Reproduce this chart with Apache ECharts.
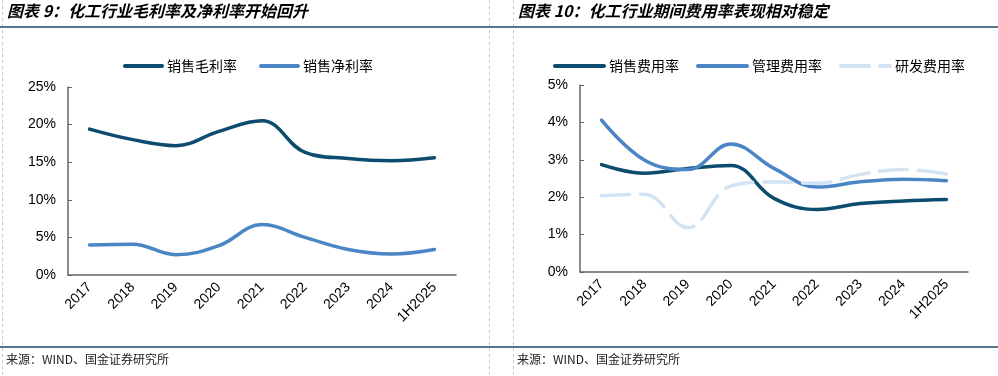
<!DOCTYPE html>
<html>
<head>
<meta charset="utf-8">
<script src="https://cdn.jsdelivr.net/npm/echarts@6/dist/echarts.min.js"></script>
<style>
  html, body { margin: 0; padding: 0; background: #fff; }
  #main { width: 998px; height: 376px; }
</style>
</head>
<body>
<div id="main"></div>
<script>
// categories, shared by both panels
var years = ['2017', '2018', '2019', '2020', '2021', '2022', '2023', '2024', '1H2025']

// panel 9: margins (%)
var grossMargin = [19.4, 18.0, 17.2, 19.1, 20.5, 16.3, 15.5, 15.2, 15.6]
var netMargin = [4.0, 4.1, 2.7, 3.9, 6.7, 5.0, 3.4, 2.8, 3.4]

// panel 10: expense ratios (%)
var sellingRate = [2.87, 2.64, 2.77, 2.85, 1.97, 1.67, 1.83, 1.90, 1.94]
var adminRate = [4.06, 2.99, 2.74, 3.42, 2.77, 2.27, 2.41, 2.48, 2.44]
var rdRate = [2.04, 2.08, 1.18, 2.30, 2.41, 2.37, 2.61, 2.74, 2.62]

var cDark = '#0b4c6f'
var cMid = '#4a86c6'
var cLight = '#d2e4f4'
var cnFont = '"Noto Sans CJK SC", sans-serif'
var numFont = '"Liberation Sans", Arial, sans-serif'

function xAxisFor(idx) {
    return {
        type: 'category',
        gridIndex: idx,
        data: years,
        boundaryGap: true,
        axisLine: { lineStyle: { color: '#666', width: 1.5 } },
        axisTick: { inside: true, length: 4, alignWithLabel: false, lineStyle: { color: '#666', width: 1 } },
        axisLabel: { rotate: 45, color: '#000', fontSize: 14, fontFamily: numFont, margin: 10, interval: 0 },
        splitLine: { show: false },
    }
}

function yAxisFor(idx, max, step) {
    return {
        type: 'value',
        gridIndex: idx,
        min: 0,
        max: max,
        interval: step,
        axisLine: { show: true, lineStyle: { color: '#666', width: 1.5 } },
        axisTick: { show: true, inside: true, length: 4, lineStyle: { color: '#666', width: 1 } },
        axisLabel: { color: '#000', fontSize: 14, fontFamily: numFont, margin: 12, formatter: '{value}%' },
        splitLine: { show: false },
    }
}

function lineSeries(name, data, idx, color, dash) {
    return {
        name: name,
        type: 'line',
        xAxisIndex: idx,
        yAxisIndex: idx,
        data: data,
        smooth: 0.4,
        symbol: 'none',
        lineStyle: { color: color, width: 3.5, type: dash || 'solid', cap: 'round' },
        itemStyle: { color: color },
    }
}

var myChart = echarts.init(document.getElementById('main'), null, { renderer: 'canvas' })

var legendText = { fontFamily: cnFont, fontSize: 14, color: '#000' }

var option = {
    animation: false,
    backgroundColor: '#fff',
    grid: [
        { left: 68, right: 542, top: 87, bottom: 101 },
        { left: 580, right: 30, top: 85, bottom: 104 },
    ],
    xAxis: [xAxisFor(0), xAxisFor(1)],
    yAxis: [yAxisFor(0, 25, 5), yAxisFor(1, 5, 1)],
    legend: [
        {
            left: 118,
            top: 54,
            itemWidth: 37,
            itemGap: 22,
            itemStyle: { opacity: 0 },
            lineStyle: { width: 4 },
            data: ['销售毛利率', '销售净利率'],
            textStyle: legendText,
        },
        {
            left: 548,
            top: 54,
            itemWidth: 49,
            itemGap: 17,
            itemStyle: { opacity: 0 },
            lineStyle: { width: 4 },
            data: ['销售费用率', '管理费用率', '研发费用率'],
            textStyle: legendText,
        },
    ],
    series: [
        lineSeries('销售毛利率', grossMargin, 0, cDark),
        lineSeries('销售净利率', netMargin, 0, cMid),
        lineSeries('销售费用率', sellingRate, 1, cDark),
        lineSeries('管理费用率', adminRate, 1, cMid),
        lineSeries('研发费用率', rdRate, 1, cLight, [28, 11]),
    ],
    graphic: [
        // panel borders (dashed)
        { type: 'line', shape: { x1: 2.5, y1: 0, x2: 2.5, y2: 376 }, style: { stroke: '#c8c8c8', lineWidth: 1, lineDash: [3, 3] } },
        { type: 'line', shape: { x1: 489.5, y1: 0, x2: 489.5, y2: 376 }, style: { stroke: '#c8c8c8', lineWidth: 1, lineDash: [3, 3] } },
        { type: 'line', shape: { x1: 513.5, y1: 0, x2: 513.5, y2: 376 }, style: { stroke: '#c8c8c8', lineWidth: 1, lineDash: [3, 3] } },
        // title and source rules
        { type: 'line', shape: { x1: 0, y1: 27, x2: 998, y2: 27 }, style: { stroke: '#1d4a6b', lineWidth: 1.5 } },
        { type: 'line', shape: { x1: 0, y1: 347, x2: 998, y2: 347 }, style: { stroke: '#1d4a6b', lineWidth: 1.5 } },
        // titles
        {
            type: 'text', left: 7, top: 3,
            style: { text: '图表 9：化工行业毛利率及净利率开始回升', fill: '#000', font: 'italic bold 16px ' + cnFont },
        },
        {
            type: 'text', left: 518, top: 3,
            style: { text: '图表 10：化工行业期间费用率表现相对稳定', fill: '#000', font: 'italic bold 16px ' + cnFont },
        },
        // sources
        {
            type: 'text', left: 6, top: 353,
            style: { text: '来源：WIND、国金证券研究所', fill: '#222', font: '12px ' + cnFont },
        },
        {
            type: 'text', left: 517, top: 353,
            style: { text: '来源：WIND、国金证券研究所', fill: '#222', font: '12px ' + cnFont },
        },
    ],
}

myChart.setOption(option)
</script>
</body>
</html>
